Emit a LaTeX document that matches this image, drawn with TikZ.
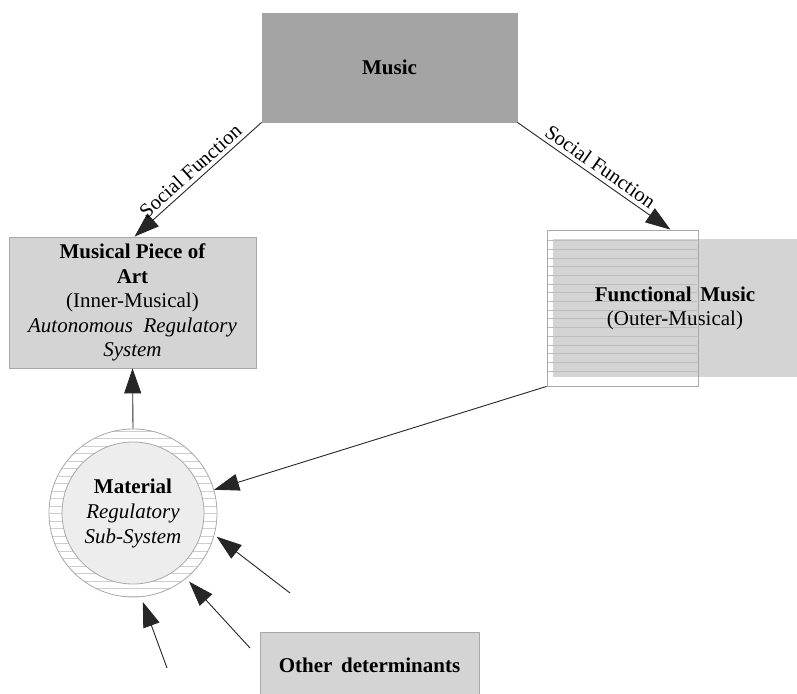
\documentclass[tikz,border=0pt]{standalone}
\usepackage{fontspec}
\setmainfont{Liberation Serif}
\usetikzlibrary{arrows.meta,calc}
\definecolor{musicgray}{HTML}{A4A4A4}
\definecolor{boxgray}{HTML}{D4D4D4}
\definecolor{edgegray}{HTML}{A8A8A8}
\definecolor{stripe}{HTML}{BDBDBD}
\definecolor{innergray}{HTML}{EDEDED}
\begin{document}
\begin{tikzpicture}[x=1pt,y=-1pt,
  box/.style={rectangle, draw=edgegray, line width=0.8pt, fill=boxgray, inner sep=0pt, align=center, font=\fontsize{21}{24.5}\selectfont},
  conn/.style={draw=black!85, line width=0.9pt, -{Triangle[length=25pt,width=17pt]}},
  lbl/.style={font=\fontsize{20.5}{22}\selectfont, sloped, above, inner sep=4pt}]
\useasboundingbox (0,0) rectangle (797,693);
\fill[white] (0,0) rectangle (797,693);
% Music
\node (music) [box, fill=musicgray, draw=musicgray, minimum width=255pt, minimum height=109pt] at (389.5,67.5) {\textbf{Music}};
% Musical piece of art
\node (piece) [box, minimum width=247pt, minimum height=131pt] at (132.5,302.5)
 {\textbf{Musical Piece of}\\\textbf{Art}\\(Inner-Musical)\\\textit{Autonomous\ \ Regulatory}\\\textit{System}};
% Functional music
\node (funcbg) [rectangle, fill=boxgray, inner sep=0pt, minimum width=244pt, minimum height=138pt] at (675,308) {};
\foreach \yy in {240.5,249.2,...,378} \draw[stripe, line width=0.8pt] (548,\yy) -- (697,\yy);
\node (functxt) [align=center, font=\fontsize{21}{24}\selectfont] at (675,308) {\textbf{Functional\ \,Music}\\(Outer-Musical)};
\node (func) [rectangle, draw=edgegray, line width=0.8pt, inner sep=0pt, minimum width=151pt, minimum height=156pt] at (622.5,308) {};
% Material circle
\begin{scope}
  \clip (133,513) circle (84);
  \foreach \yy in {431,438.5,...,598} \draw[stripe!75, line width=0.8pt] (40,\yy) -- (230,\yy);
\end{scope}
\node (circ) [circle, draw=edgegray, line width=0.8pt, inner sep=0pt, minimum size=168pt] at (133,513) {};
\node (inner) [circle, draw=edgegray, fill=innergray, line width=0.8pt, inner sep=0pt, minimum size=142pt, align=center, font=\fontsize{21}{25}\selectfont] at (133,513)
 {\textbf{Material}\\\textit{Regulatory}\\\textit{Sub-System}};
% Other determinants
\node (other) [box, minimum width=219pt, minimum height=66pt] at (369.5,665) {\textbf{Other\ \,determinants}};
% connectors
\draw[conn] (music.south west) -- node[lbl]{Social Function} ($(piece.north)+(2,0)$);
\coordinate (ftop) at ($(func.north east)+(-28,0)$);
\draw[conn] (music.south east) -- node[lbl]{Social Function} (ftop);
\draw[conn] (circ.north) -- (piece.south);
\draw[conn] (func.south west) -- (circ.16);
\coordinate (t1) at (290,593);
\coordinate (t2) at (250,648);
\coordinate (t3) at (167,668);
\draw[conn] (t1) -- ($(circ.-17)+(3,-1)$);
\draw[conn] (t2) -- ($(circ.-51)+(3,3)$);
\draw[conn] (t3) -- ($(circ.-84)+(1,5)$);
\end{tikzpicture}
\end{document}
